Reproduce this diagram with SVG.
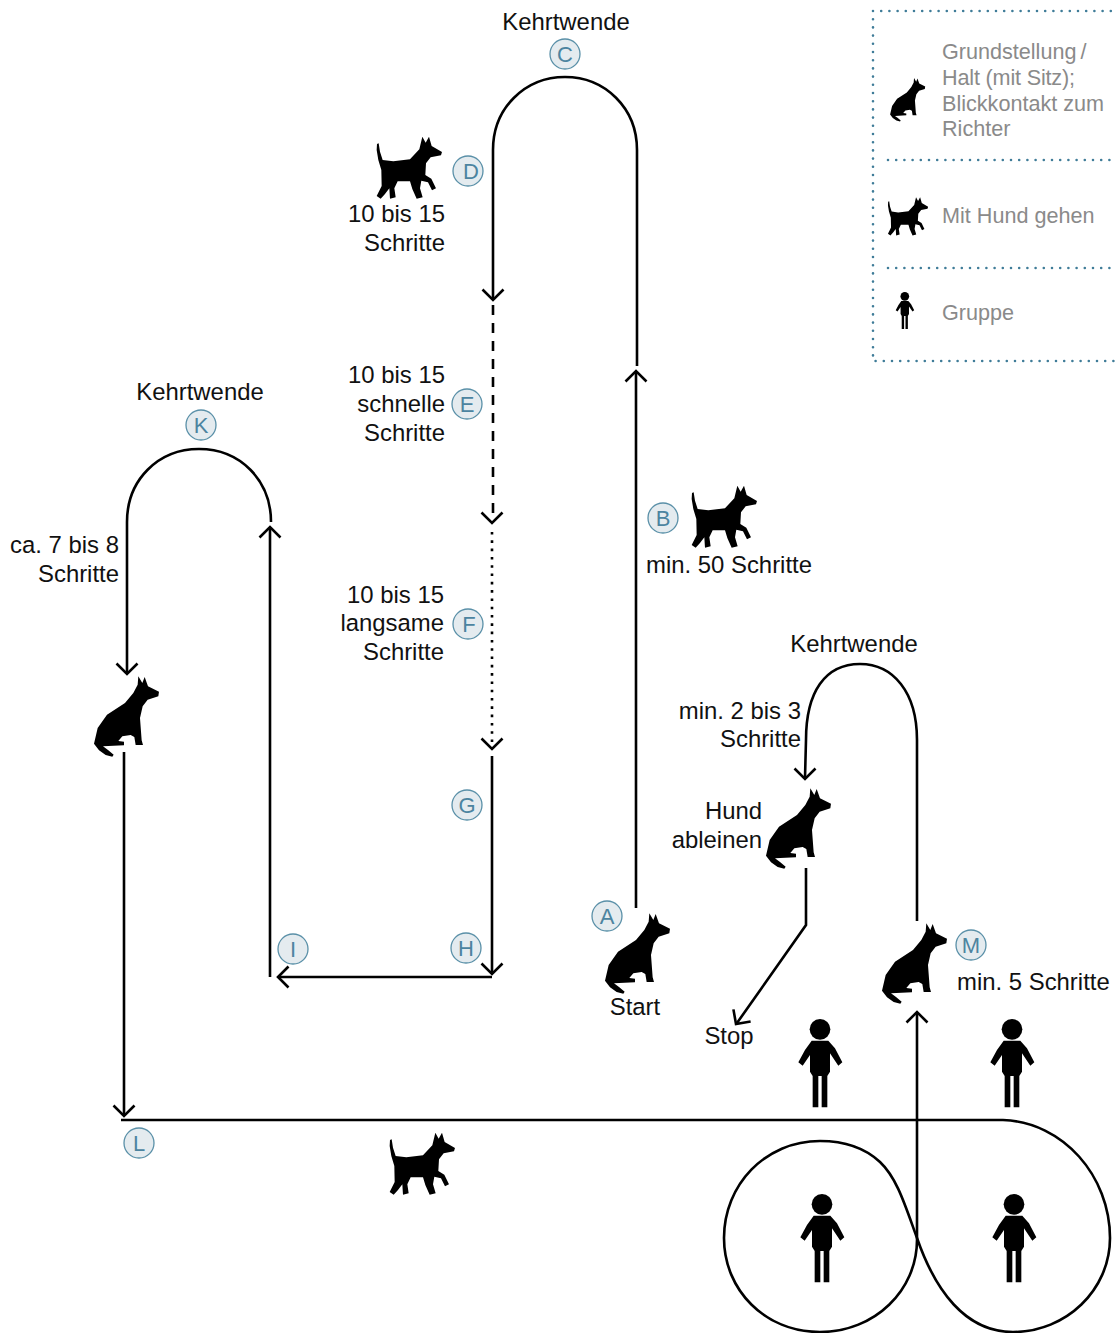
<svg xmlns="http://www.w3.org/2000/svg" xmlns:xlink="http://www.w3.org/1999/xlink" width="1115" height="1333" viewBox="0 0 1115 1333">
<style>
text{font-family:"Liberation Sans",Arial,sans-serif}
.t{font-size:23.9px;fill:#111}
.e{text-anchor:end}
.m{text-anchor:middle}
.g{font-size:21.6px;fill:#8a8a8a}
.c{fill:none;stroke:#000;stroke-width:2.6}
.l{fill:#e4ebef;stroke:#5a90a8;stroke-width:1.3}
.b{font-size:22px;fill:#4c84a0;text-anchor:middle}
.d{fill:none;stroke:#3f7c98;stroke-width:2.6;stroke-linecap:round;stroke-dasharray:0 8.2}
</style>
<defs>
<path id="walk" transform="scale(.3333)" d="M56 70L60 95L68 120L100 124L150 118L178 88L187 50L197 68L207 50L215 78L246 96L243 106L212 112L198 130L196 165L214 176L228 205L216 211L204 187L184 182L180 205L188 232L170 236L157 207L150 184L113 184L103 205L107 232L90 236L88 205L75 222L62 236L50 228L65 198L64 150L55 120L50 90L51 72Z"/>
<path id="sit" transform="scale(.3333)" d="M178 70L190 90L197 72L207 100L240 116L238 130L206 140L191 160L183 195L188 262L192 276L170 276L166 252L155 246L130 250L118 264L135 266L135 277L72 280L88 292L104 305L100 311L80 306L60 292L45 272L56 225L84 185L138 150L163 120L176 95Z"/>
<g id="person" transform="scale(.3333)"><circle cx="120" cy="88" r="31"/><path d="M95 122H145L165 145L187 187L175 197L150 160V215L142 228V322H125V228H115V322H98V228L90 215V165L68 197L55 187L75 150Z"/></g>
<path id="ch" d="M-10.500 -10.500L0 0L10.500 -10.500" fill="none" stroke="#000" stroke-width="2.600"/>
</defs>

<g id="connectors">
<path class="c" d="M493 298V150C493 108 525 77 565 77C605 77 637 108 637 150V366"/>
<path class="c" d="M636 908V373"/>
<path class="c" d="M493 305V522" stroke-dasharray="10 8"/>
<path class="c" d="M492 532V748" stroke-dasharray="2.600 5.700"/>
<path class="c" d="M492 756V974"/>
<path class="c" d="M492 977H279"/>
<path class="c" d="M270 977V528"/>
<path class="c" d="M271 522C271 480 240 449 199 449C158 449 127 480 127 522V672"/>
<path class="c" d="M124 752V1116"/>
<path class="c" d="M121 1120H1003C1063 1122 1110 1176 1110 1238C1110 1290 1066 1332 1013 1332C965 1332 935 1290 917 1238C905 1205 897 1178 880 1162C865 1148 845 1141 820 1141C765 1141 724 1185 724 1238C724 1290 765 1332 820 1332C875 1332 917 1290 917 1240"/>
<path class="c" d="M917 1240V1013"/>
<path class="c" d="M917 921V740C917 692 893 664 860 664C825 664 806 692 806 740L805 778"/>
<path class="c" d="M806 868V925L737 1023"/>
<use xlink:href="#ch" href="#ch" transform="translate(493,300)"/>
<use xlink:href="#ch" href="#ch" transform="translate(636,371) rotate(180)"/>
<use xlink:href="#ch" href="#ch" transform="translate(492,523)"/>
<use xlink:href="#ch" href="#ch" transform="translate(492,749)"/>
<use xlink:href="#ch" href="#ch" transform="translate(492,974)"/>
<use xlink:href="#ch" href="#ch" transform="translate(278,977) rotate(90)"/>
<use xlink:href="#ch" href="#ch" transform="translate(270,527) rotate(180)"/>
<use xlink:href="#ch" href="#ch" transform="translate(127,674)"/>
<use xlink:href="#ch" href="#ch" transform="translate(124,1116)"/>
<use xlink:href="#ch" href="#ch" transform="translate(917,1012) rotate(180)"/>
<use xlink:href="#ch" href="#ch" transform="translate(805,779)"/>
<use xlink:href="#ch" href="#ch" transform="translate(736,1024) rotate(35)"/>
</g>

<g id="dogs">
<use id="dog-d" href="#walk" transform="translate(360,120)"/>
<use id="dog-b" href="#walk" transform="translate(675,469)"/>
<use id="dog-l" href="#walk" transform="translate(373,1116)"/>
<use id="dog-a" href="#sit" transform="translate(590,890)"/>
<use id="dog-k" href="#sit" transform="translate(79,653)"/>
<use id="dog-h" href="#sit" transform="translate(751,765)"/>
<use id="dog-m" href="#sit" transform="translate(867,900)"/>
</g>
<g id="people">
<use href="#person" transform="translate(780,1000)"/>
<use href="#person" transform="translate(972,1000)"/>
<use href="#person" transform="translate(782,1175)"/>
<use href="#person" transform="translate(974,1175)"/>
</g>

<g id="node-a"><circle class="l" cx="607" cy="916" r="15"/><text class="b" x="607" y="924">A</text></g>
<g id="node-b"><circle class="l" cx="663" cy="518" r="15"/><text class="b" x="663" y="526">B</text></g>
<g id="node-c"><circle class="l" cx="565" cy="54" r="15"/><text class="b" x="565" y="62">C</text></g>
<g id="node-d"><circle class="l" cx="468" cy="171" r="15"/><text class="b" x="471" y="179">D</text></g>
<g id="node-e"><circle class="l" cx="467" cy="404" r="15"/><text class="b" x="467" y="412">E</text></g>
<g id="node-f"><circle class="l" cx="468" cy="624" r="15"/><text class="b" x="469" y="632">F</text></g>
<g id="node-g"><circle class="l" cx="467" cy="805" r="15"/><text class="b" x="467" y="813">G</text></g>
<g id="node-h"><circle class="l" cx="466" cy="948" r="15"/><text class="b" x="466" y="956">H</text></g>
<g id="node-i"><circle class="l" cx="293" cy="949" r="15"/><text class="b" x="293" y="957">I</text></g>
<g id="node-k"><circle class="l" cx="201" cy="425" r="15"/><text class="b" x="201" y="433">K</text></g>
<g id="node-l"><circle class="l" cx="139" cy="1143" r="15"/><text class="b" x="139" y="1151">L</text></g>
<g id="node-m"><circle class="l" cx="971" cy="945" r="15"/><text class="b" x="971" y="953">M</text></g>

<g id="labels">
<text class="t m" x="566" y="30">Kehrtwende</text>
<text class="t e" x="445" y="222">10 bis 15</text>
<text class="t e" x="445" y="251">Schritte</text>
<text class="t e" x="445" y="383">10 bis 15</text>
<text class="t e" x="445" y="412">schnelle</text>
<text class="t e" x="445" y="441">Schritte</text>
<text class="t e" x="444" y="603">10 bis 15</text>
<text class="t e" x="444" y="631">langsame</text>
<text class="t e" x="444" y="660">Schritte</text>
<text class="t m" x="200" y="400">Kehrtwende</text>
<text class="t e" x="119" y="553">ca. 7 bis 8</text>
<text class="t e" x="119" y="582">Schritte</text>
<text class="t" x="646" y="573">min. 50 Schritte</text>
<text class="t m" x="854" y="652">Kehrtwende</text>
<text class="t e" x="801" y="719">min. 2 bis 3</text>
<text class="t e" x="801" y="747">Schritte</text>
<text class="t e" x="762" y="819">Hund</text>
<text class="t e" x="762" y="848">ableinen</text>
<text class="t m" x="635" y="1015">Start</text>
<text class="t m" x="729" y="1044">Stop</text>
<text class="t" x="957" y="990">min. 5 Schritte</text>
</g>

<g id="legend">
<path class="d" d="M873 11H1115M873 11V361H1115M888 160H1110M888 268H1110"/>
<use href="#sit" transform="translate(882,65.500) scale(.54)"/>
<use href="#walk" transform="translate(877.700,187) scale(.615)"/>
<use href="#person" transform="translate(888,284) scale(.42)"/>
<text class="g" x="942" y="59" word-spacing="-2">Grundstellung /</text>
<text class="g" x="942" y="85" textLength="133">Halt (mit Sitz);</text>
<text class="g" x="942" y="111">Blickkontakt zum</text>
<text class="g" x="942" y="136">Richter</text>
<text class="g" x="942" y="223">Mit Hund gehen</text>
<text class="g" x="942" y="320">Gruppe</text>
</g>
</svg>
